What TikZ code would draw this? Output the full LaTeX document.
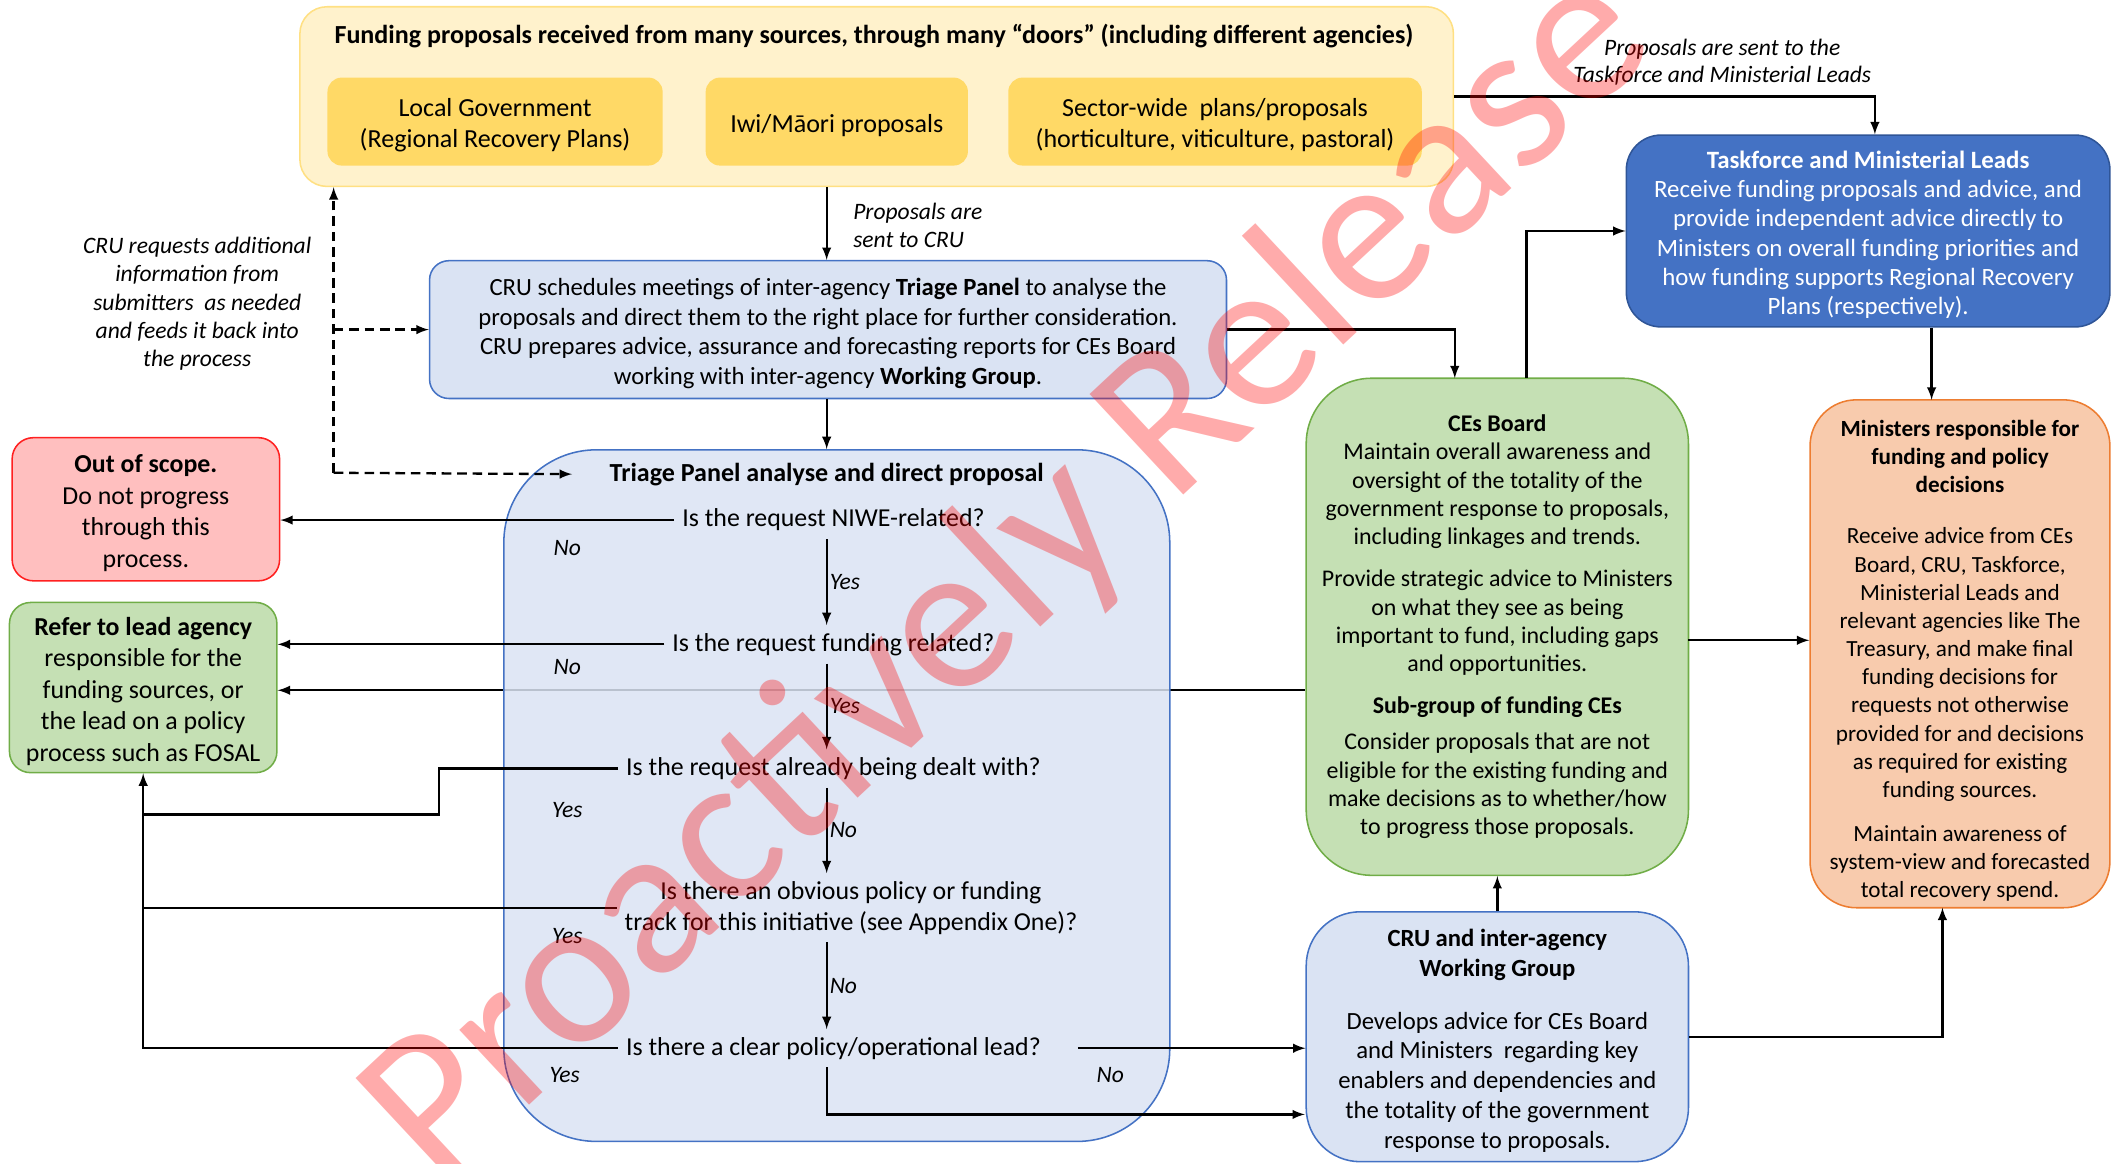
\documentclass[tikz,border=0pt]{standalone}
\usepackage{fontspec}
\setmainfont{Carlito}
\usepackage{tikz}
\usetikzlibrary{calc}
\usetikzlibrary{arrows}
\usetikzlibrary{fit}
\newcommand{\fs}[2]{\fontsize{#1}{#2}\selectfont}
\definecolor{yelbg}{HTML}{FFF2CC}
\definecolor{yelln}{HTML}{FFE083}
\definecolor{yelbox}{HTML}{FFD966}
\definecolor{bluebg}{HTML}{DAE3F3}
\definecolor{blueln}{HTML}{4472C4}
\definecolor{bluedk}{HTML}{4472C4}
\definecolor{bluedkln}{HTML}{2F5597}
\definecolor{greenbg}{HTML}{C5E0B4}
\definecolor{greenln}{HTML}{70AD47}
\definecolor{pinkbg}{HTML}{FFBFBF}
\definecolor{pinkln}{HTML}{FF2020}
\definecolor{orangebg}{HTML}{F8CBAD}
\definecolor{orangeln}{HTML}{ED7D31}
\tikzset{
	panel/.style={draw, inner sep=0pt, line width=0.8pt},
	boxtext/.style={align=center, inner sep=0pt, yshift=-2pt},
	yelouter/.style={panel, draw=yelln, fill=yelbg, rounded corners=14pt},
	yelsub/.style={panel, draw=yelbox, fill=yelbox, rounded corners=7pt},
	bluepanel/.style={panel, draw=blueln, fill=bluebg},
	greenpanel/.style={panel, draw=greenln, fill=greenbg},
	qtext/.style={align=center, inner sep=4pt, font=\fs{13.4}{16}},
	lbl/.style={align=center, inner sep=1pt, font=\fs{12.2}{14.7}\itshape},
	arr/.style={draw, line width=1.2pt, ->, >=latex},
	dasharr/.style={arr, dash pattern=on 5pt off 3pt},
}

\begin{document}
\begin{tikzpicture}[x=0.7pt, y=-0.7pt]
		\useasboundingbox (0,0) rectangle (1568,861);
		\coordinate (spine) at (612,0);
		\node[yelouter, fit={(222,5) (1076,138)}] (top) {};
		\node[font=\fs{13.5}{15}\bfseries] (toptitle) at (647,27) {Funding proposals received from many sources, through many ``doors'' (including different agencies)};
		\node[yelsub, fit={(243,58) (490,122)}] (lg) {};
		\node[yelsub, fit={(523,58) (716,122)}] (iwi) {};
		\node[yelsub, fit={(747,58) (1052,122)}] (sector) {};
		\node[boxtext, font=\fs{13.5}{16}] (lgtext) at (lg) {Local Government\\(Regional Recovery Plans)};
		\node[boxtext, font=\fs{13.5}{16}] (iwitext) at (iwi) {Iwi/Māori proposals};
		\node[boxtext, font=\fs{13.5}{16}] (sectortext) at (sector) {Sector-wide\ \ plans/proposals\\(horticulture, viticulture, pastoral)};
		\node[panel, draw=bluedkln, fill=bluedk, rounded corners=18pt, fit={(1204,100) (1562,242)}] (task) {};
		\node[boxtext, text=white, font=\fs{12.9}{15.2}] (tasktext) at (task) {\textbf{Taskforce and Ministerial Leads}\\Receive funding proposals and advice, and\\provide independent advice directly to\\Ministers on overall funding priorities and\\how funding supports Regional Recovery\\Plans (respectively).};
		\node[bluepanel, rounded corners=10pt, fit={(318,193) (908,295)}] (cru) {};
		\node[boxtext, font=\fs{12.8}{15.4}] (crutext) at (cru) {CRU schedules meetings of inter-agency \textbf{Triage Panel} to analyse the\\proposals and direct them to the right place for further consideration.\\CRU prepares advice, assurance and forecasting reports for CEs Board\\working with inter-agency \textbf{Working Group}.};
		\node[panel, draw=pinkln, fill=pinkbg, rounded corners=11pt, fit={(9,324) (207,430)}] (oos) {};
		\node[boxtext, font=\fs{13.4}{16.3}] (oostext) at (oos) {\textbf{Out of scope.}\\Do not progress\\through this\\process.};
		\node[greenpanel, rounded corners=11pt, fit={(7,446) (205,572)}] (refer) {};
		\node[boxtext, font=\fs{13.4}{16.3}] (refertext) at (refer) {\textbf{Refer to lead agency}\\responsible for the\\funding sources, or\\the lead on a policy\\process such as FOSAL};
		\node[greenpanel, rounded corners=34pt, fit={(967,280) (1250,648)}] (ceb) {};
		\node[boxtext, yshift=2pt, font=\fs{12.4}{14.7}] (cebtext) at (ceb) {\textbf{CEs Board}\\Maintain overall awareness and\\oversight of the totality of the\\government response to proposals,\\including linkages and trends.\\[7pt]Provide strategic advice to Ministers\\on what they see as being\\important to fund, including gaps\\and opportunities.\\[7pt]\textbf{Sub-group of funding CEs}\\[4pt]Consider proposals that are not\\eligible for the existing funding and\\make decisions as to whether/how\\to progress those proposals.};
		\node[panel, draw=orangeln, fill=orangebg, rounded corners=24pt, fit={(1340,296) (1562,672)}] (min) {};
		\node[boxtext, yshift=-1.5pt, font=\fs{12}{14.6}] (mintext) at (min) {\textbf{Ministers responsible for}\\\textbf{funding and policy}\\\textbf{decisions}\\[12pt]Receive advice from CEs\\Board, CRU, Taskforce,\\Ministerial Leads and\\relevant agencies like The\\Treasury, and make final\\funding decisions for\\requests not otherwise\\provided for and decisions\\as required for existing\\funding sources.\\[8pt]Maintain awareness of\\system-view and forecasted\\total recovery spend.};
		\node[bluepanel, rounded corners=28pt, fit={(967,675) (1250,860)}] (wg) {};
		\node[boxtext, font=\fs{12.8}{15.4}] (wgtext) at (wg) {\textbf{CRU and inter-agency}\\\textbf{Working Group}\\[12pt]Develops advice for CEs Board\\and Ministers\ \ regarding key\\enablers and dependencies and\\the totality of the government\\response to proposals.};
		\coordinate (cr) at (966,511);
		\draw[arr] (cr) -- (cr -| refer.east);
		\node[bluepanel, fill opacity=0.85, rounded corners=48pt, fit={(373,333) (866,845)}] (triage) {};
		\node[font=\fs{13.5}{15}\bfseries] (ttitle) at (612,351) {Triage Panel analyse and direct proposal};
		\node[qtext] (q1) at (617,385) {Is the request NIWE-related?};
		\node[qtext] (q2) at (617,477) {Is the request funding related?};
		\node[qtext] (q3) at (617,569) {Is the request already being dealt with?};
		\node[qtext] (q4) at (630,672) {Is there an obvious policy or funding\\track for this initiative (see Appendix One)?};
		\node[qtext] (q5) at (617,776) {Is there a clear policy/operational lead?};
		\node[lbl, anchor=west, align=left] (lblcru) at (630,167) {Proposals are\\sent to CRU};
		\node[lbl, font=\fs{12.2}{14}\itshape] (lbltask) at (1275,46) {Proposals are sent to the\\Taskforce and Ministerial Leads};
		\node[lbl] (lblreq) at (146,225) {CRU requests additional\\information from\\submitters\ \ as needed\\and feeds it back into\\the process};
		\draw[arr] (top.south -| spine) -- (cru.north -| spine);
		\draw[arr] (top.east) -| (task.north -| 1388,0);
		\coordinate (dl) at (247,350);
		\draw[dasharr] (dl) -- (dl |- top.south);
		\draw[dasharr] (dl |- cru.west) -- (cru.west);
		\draw[dasharr] (dl) -- ([xshift=-16pt]ttitle.west);
		\draw[arr] (cru.south -| spine) -- (triage.north -| spine);
		\coordinate (cebin) at (1077,280);
		\draw[arr] (cru.east) -| (cebin);
		\coordinate (cebout) at (1130,280);
		\draw[arr] (cebout) |- (task.west);
		\coordinate (mintop) at (1430,296);
		\draw[arr] (mintop |- task.south) -- (mintop);
		\coordinate (cm) at (1250,474);
		\draw[arr] (cm) -- (cm -| min.west);
		\draw[arr] (wg.north) -- (ceb.south);
		\coordinate (minbot) at (1438,672);
		\draw[arr] (wg.east) -| (minbot);
		\draw[arr] (q1.west) -- (q1.west -| oos.east);
		\draw[arr] (q2.west) -- (q2.west -| refer.east);
		\draw[arr] (q1.south -| spine) -- (q2.north -| spine) node[midway, right, lbl] (y1) {Yes};
		\draw[arr] (q2.south -| spine) -- (q3.north -| spine) node[midway, right, lbl] (y2) {Yes};
		\draw[arr] (q3.south -| spine) -- (q4.north -| spine) node[midway, right, lbl] (n3) {No};
		\draw[arr] (q4.south -| spine) -- (q5.north -| spine) node[midway, right, lbl] (n4) {No};
		\draw[line width=1.2pt] (q3.west) -- (325,569) |- (106,603);
		\draw[line width=1.2pt] (q4.west) -- (q4.west -| refer.south);
		\draw[arr] (q5.west) -| (refer.south);
		\draw[arr] ([xshift=15pt]q5.east) -- (q5.east -| wg.west);
		\coordinate (wgb) at (966,825);
		\draw[arr] (q5.south -| spine) |- (wgb);
		\node[lbl] (n1) at (420,406) {No};
		\node[lbl] (n2) at (420,494) {No};
		\node[lbl] (y3) at (420,600) {Yes};
		\node[lbl] (y4) at (420,693) {Yes};
		\node[lbl] (y5) at (418,796) {Yes};
		\node[lbl] (n5) at (822,796) {No};
		\node[rotate=43, text=red, text opacity=0.33, font=\fs{111}{111}] (wmark) at (748,428) {Proactively Release};
	\end{tikzpicture}
\end{document}
